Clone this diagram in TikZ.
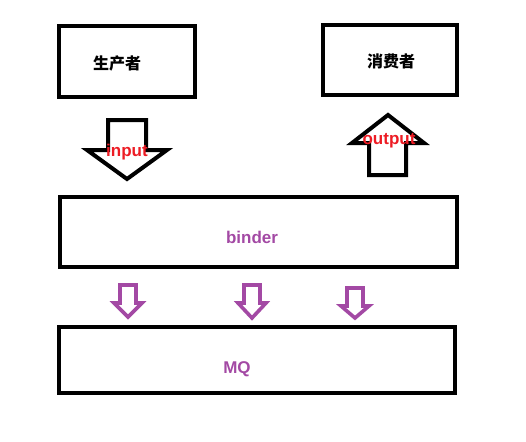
\documentclass[tikz,border=0pt]{standalone}
\usepackage{fontspec}
\setmainfont{Liberation Sans}
\newfontfamily\cjk{Noto Sans CJK SC}
\usetikzlibrary{positioning}

\definecolor{mspurple}{HTML}{A349A4}
\definecolor{msred}{HTML}{ED1C24}

\tikzset{
  box/.style={draw, line width=4pt, inner sep=0pt},
  blockarrow/.style={draw, line width=4pt},
  smallarrow/.style={draw=mspurple, line width=3.6pt},
  cntext/.style={font=\cjk\bfseries\fontsize{16}{18}\selectfont},
  redtext/.style={text=msred, font=\bfseries\fontsize{17}{20}\selectfont},
  purpletext/.style={text=mspurple, font=\bfseries\fontsize{17}{20}\selectfont}
}

\newcommand{\downarrowat}[3]{%
    \draw[smallarrow] (#1-8,#2) -- (#1+8,#2) -- (#1+8,#2+18) -- (#1+14,#2+18)
        -- (#1,#3) -- (#1-14,#2+18) -- (#1-8,#2+18) -- cycle;}

\begin{document}
\begin{tikzpicture}[x=1pt, y=-1pt]
    \useasboundingbox (0,0) rectangle (526,441);

    % boxes
    \node[box, minimum width=136pt, minimum height=71pt] (prod) at (127,61.5) {};
    \node[box, minimum width=134pt, minimum height=70pt] (cons) at (390,60) {};
    \node[box, minimum width=397pt, minimum height=70pt] (binder) at (258.5,232) {};
    \node[box, minimum width=396pt, minimum height=66pt] (mq) at (257,360) {};

    \node[cntext] (prodtext) at (117,63) {生产者};
    \node[cntext] (constext) at (391,61) {消费者};
    \node[purpletext] (bindertext) at (252,237) {binder};
    \node[purpletext] (mqtext) at (237,369) {MQ};

    % input / output
    \draw[blockarrow] (108,120) -- (146,120) -- (146,150) -- (167,150) -- (127,179)
        -- (87,150) -- (108,150) -- cycle;
    \draw[blockarrow] (369,175) -- (406,175) -- (406,143) -- (424,143) -- (388,115)
        -- (352,143) -- (369,143) -- cycle;
    \node[redtext] (input) at (127,152) {input};
    \node[redtext] (output) at (389,141) {output};

    % binder -> MQ
    \downarrowat{128}{285}{317}
    \downarrowat{252}{285}{318}
    \downarrowat{355}{288}{318}
\end{tikzpicture}
\end{document}
